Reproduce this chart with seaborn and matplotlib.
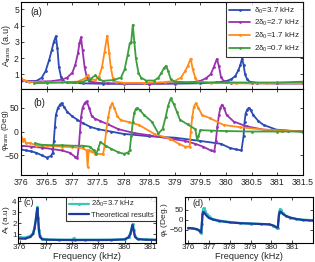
import numpy as np
import pandas as pd
import seaborn as sns
import matplotlib
matplotlib.use("Agg")
import matplotlib.pyplot as plt

# ---- data (frequency in kHz) ----
# (a) transmitted amplitude
f_blue_a = [376.0, 376.1, 376.2, 376.3, 376.4, 376.48, 376.55, 376.6, 376.64, 376.68, 376.71, 376.74, 376.78,
            376.82, 376.9, 377.2, 377.6, 378.0, 378.5, 379.0, 379.5, 379.8, 380.0, 380.1, 380.18, 380.24, 380.28,
            380.31, 380.34, 380.37, 380.41, 380.46, 380.6, 381.0, 381.5]
a_blue = [0.63, 0.6, 0.58, 0.6, 0.78, 1.2, 1.9, 2.5, 3.0, 3.35, 2.6, 1.45, 0.85, 0.6, 0.5, 0.45, 0.42, 0.42, 0.42,
          0.43, 0.45, 0.5, 0.58, 0.7, 0.9, 1.25, 1.6, 1.97, 1.6, 1.0, 0.7, 0.55, 0.48, 0.45, 0.45]

f_purple_a = [376.0, 376.3, 376.6, 376.8, 376.9, 377.0, 377.06, 377.11, 377.14, 377.17, 377.2, 377.24, 377.28,
              377.33, 377.4, 377.7, 378.0, 378.5, 379.0, 379.3, 379.5, 379.6, 379.7, 379.76, 379.82, 379.86, 379.9,
              379.95, 380.1, 380.5, 381.0, 381.5]
a_purple = [0.6, 0.56, 0.58, 0.68, 0.8, 1.1, 1.6, 2.3, 2.9, 3.28, 2.5, 1.45, 0.85, 0.6, 0.5, 0.45, 0.44, 0.43, 0.45,
            0.5, 0.6, 0.75, 1.0, 1.45, 1.95, 1.5, 0.85, 0.6, 0.48, 0.45, 0.44, 0.44]

f_orange_a = [376.0, 376.05, 376.15, 376.4, 376.8, 377.1, 377.25, 377.3, 377.36, 377.45, 377.52, 377.58, 377.63,
              377.68, 377.72, 377.75, 377.79, 377.85, 378.0, 378.4, 378.8, 379.0, 379.12, 379.2, 379.25, 379.31,
              379.35, 379.4, 379.45, 379.7, 380.2, 380.8, 381.5]
a_orange = [0.78, 0.65, 0.55, 0.5, 0.52, 0.55, 0.75, 0.95, 0.7, 0.65, 0.85, 1.45, 2.4, 3.38, 2.3, 1.45, 0.8, 0.55,
            0.48, 0.47, 0.52, 0.6, 0.8, 1.2, 1.5, 1.97, 1.3, 0.8, 0.55, 0.48, 0.45, 0.45, 0.45]

f_green_a = [376.25, 376.5, 376.9, 377.2, 377.35, 377.45, 377.52, 377.6, 377.8, 377.95, 378.02, 378.08, 378.12,
             378.15, 378.18, 378.21, 378.24, 378.29, 378.34, 378.44, 378.6, 378.68, 378.74, 378.79, 378.83, 378.87,
             378.92, 379.0, 379.4, 380.0, 380.5, 381.0, 381.5]
a_green = [0.45, 0.48, 0.5, 0.55, 0.7, 0.94, 0.7, 0.6, 0.65, 0.8, 1.3, 2.2, 2.9, 3.0, 4.05, 3.0, 2.0, 1.1, 0.8, 0.62,
           0.62, 0.8, 1.1, 1.4, 1.52, 1.2, 0.7, 0.55, 0.5, 0.5, 0.5, 0.5, 0.55]

# (b) transmitted phase
f_blue_b = [376.0, 376.1, 376.2, 376.3, 376.4, 376.5, 376.58, 376.62, 376.64, 376.66, 376.68, 376.72, 376.76,
            376.79, 376.84, 376.9, 377.0, 377.1, 377.2, 377.35, 377.5, 377.75, 378.0, 378.5, 379.0, 379.5, 379.9,
            380.08, 380.2, 380.3, 380.34, 380.36, 380.38, 380.41, 380.44, 380.48, 380.53, 380.63, 380.73, 380.98,
            381.2, 381.5]
p_blue = [-38, -40, -42, -45, -50, -55, -52, -45, -20, 10, 35, 50, 57, 60, 52, 42, 32, 25, 18, 10, 5, 0, -5, -10,
          -13, -20, -26, -35, -38, -40, -10, 20, 38, 46, 50, 45, 35, 22, 14, 4, 2, 0]

f_purple_b = [376.0, 376.2, 376.4, 376.6, 376.8, 376.95, 377.05, 377.1, 377.13, 377.15, 377.17, 377.2, 377.24,
              377.28, 377.33, 377.38, 377.45, 377.55, 377.7, 377.9, 378.2, 378.5, 378.9, 379.2, 379.4, 379.55,
              379.7, 379.77, 379.8, 379.83, 379.86, 379.89, 379.92, 379.96, 380.01, 380.15, 380.4, 380.73, 381.1,
              381.5]
p_purple = [-30, -32, -34, -37, -40, -45, -53, -55, -30, 0, 30, 50, 60, 64, 50, 32, 27, 22, 15, 5, -3, -8, -15, -20,
            -26, -32, -40, -42, -20, 10, 35, 50, 57, 50, 35, 21, 11, 4, 2, 0]

f_orange_b = [376.0, 376.03, 376.06, 376.1, 376.18, 376.3, 376.5, 376.8, 377.0, 377.2, 377.28, 377.3, 377.32,
              377.36, 377.45, 377.6, 377.63, 377.66, 377.7, 377.74, 377.78, 377.82, 377.88, 377.95, 378.1, 378.3,
              378.6, 378.9, 379.08, 379.2, 379.29, 379.31, 379.34, 379.37, 379.41, 379.46, 379.53, 379.69, 379.95,
              380.28, 380.73, 381.1, 381.5]
p_orange = [-11, -20, -15, -25, -24, -30, -30, -32, -33, -35, -40, -75, -40, -42, -47, -48, -30, 0, 30, 52, 60, 50,
            32, 24, 20, 14, -5, -15, -26, -32, -32, 0, 30, 52, 60, 50, 35, 28, 14, 9, 4, 2, 0]

f_green_b = [376.27, 376.4, 376.6, 376.8, 377.0, 377.2, 377.34, 377.42, 377.47, 377.5, 377.55, 377.65, 377.75,
             377.9, 378.0, 378.08, 378.12, 378.15, 378.18, 378.21, 378.24, 378.27, 378.32, 378.4, 378.55, 378.68,
             378.76, 378.82, 378.87, 378.92, 378.98, 379.04, 379.1, 379.25, 379.4, 379.43, 379.46, 379.5, 379.7,
             380.0, 380.5, 381.0, 381.5]
p_green = [-25, -28, -29, -29, -30, -30, -32, -40, -47, -38, -22, -30, -36, -44, -47, -45, -40, -10, 20, 40, 48, 50,
           45, 35, 21, -4, 5, 30, 55, 70, 58, 42, 25, 15, 5, -15, -10, 3, 2, 1, 0, 0, 0]

# (c) amplitude, measurement vs theory
f_c = [376.0, 376.2, 376.4, 376.5, 376.56, 376.61, 376.64, 376.67, 376.7, 376.73, 376.77, 376.85, 377.0, 377.5,
       378.0, 378.05, 378.1, 378.5, 379.0, 379.5, 380.0, 380.15, 380.22, 380.27, 380.31, 380.35, 380.4, 380.5,
       380.8, 381.2, 381.5]
a_meas = [0.72, 0.7, 0.85, 1.1, 1.6, 2.4, 3.0, 3.5, 2.5, 1.4, 0.8, 0.6, 0.52, 0.5, 0.5, 0.62, 0.5, 0.5, 0.5, 0.5,
          0.55, 0.75, 1.1, 1.6, 1.95, 1.4, 0.8, 0.58, 0.52, 0.5, 0.5]
a_theory = [0.6, 0.6, 0.75, 1.0, 1.5, 2.3, 2.9, 3.4, 2.4, 1.3, 0.75, 0.55, 0.5, 0.48, 0.47, 0.47, 0.47, 0.47, 0.47,
            0.48, 0.52, 0.7, 1.0, 1.5, 1.85, 1.3, 0.75, 0.55, 0.5, 0.48, 0.48]

# (d) phase, measurement vs theory
f_d = [376.0, 376.2, 376.4, 376.5, 376.58, 376.63, 376.66, 376.69, 376.72, 376.76, 376.82, 376.9, 377.0, 377.2,
       377.5, 378.0, 378.5, 379.0, 379.5, 379.9, 380.1, 380.22, 380.28, 380.31, 380.34, 380.37, 380.41, 380.46,
       380.55, 380.7, 380.9, 381.2, 381.5, 381.8, 382.0]
p_meas = [-40, -42, -46, -52, -60, -65, -20, 30, 55, 60, 45, 30, 18, 5, -3, -10, -15, -18, -20, -22, -28, -35, -40,
          -40, 0, 35, 55, 50, 35, 22, 12, 5, 2, 0, -2]
p_theory = [-40, -42, -45, -50, -58, -62, -20, 25, 40, 38, 30, 20, 10, 2, -5, -12, -16, -18, -20, -22, -28, -35,
            -38, -38, 0, 30, 42, 40, 30, 20, 12, 5, 0, -2, -3]

series_labels = ["δ$_0$=3.7 kHz", "2δ$_0$=2.7 kHz", "2δ$_0$=1.7 kHz", "2δ$_0$=0.7 kHz"]
series_colors = ["#2c4bb3", "#9b30b0", "#ff8c1a", "#3c9e3c"]
top_ticks = [376, 376.5, 377, 377.5, 378, 378.5, 379, 379.5, 380, 380.5, 381, 381.5]
top_ticklabels = ["376", "376.5", "377", "377.5", "378", "378.5", "379", "379.5", "380", "380.5", "381", "381.5"]
bottom_ticks = [376, 377, 378, 379, 380, 381]

sns.set_style("ticks")
plt.rcParams["font.family"] = ["Liberation Sans", "DejaVu Sans"]
plt.rcParams["mathtext.fontset"] = "custom"
plt.rcParams["mathtext.rm"] = "Liberation Sans"
plt.rcParams["mathtext.it"] = "Liberation Sans:italic"
plt.rcParams.update({
    "xtick.direction": "in", "ytick.direction": "in",
    "xtick.top": True, "ytick.right": True,
    "xtick.major.size": 2.5, "ytick.major.size": 2.5,
    "xtick.major.width": 0.6, "ytick.major.width": 0.6,
    "xtick.labelsize": 6.3, "ytick.labelsize": 6.2,
    "xtick.major.pad": 2.5, "ytick.major.pad": 1.5,
    "axes.linewidth": 0.8, "axes.edgecolor": "black",
    "axes.labelsize": 7, "axes.labelpad": 1,
})

W, H = 315, 262
fig = plt.figure(figsize=(W / 100, H / 100), dpi=100)
ax_a = fig.add_axes([21 / W, 1 - 89 / H, 282 / W, 87 / H])
ax_b = fig.add_axes([21 / W, 1 - 175 / H, 282 / W, 86 / H])
ax_c = fig.add_axes([18 / W, 1 - 243 / H, 138 / W, 46 / H])
ax_d = fig.add_axes([185 / W, 1 - 243 / H, 128 / W, 46 / H])

amp = [(f_blue_a, a_blue), (f_purple_a, a_purple), (f_orange_a, a_orange), (f_green_a, a_green)]
phase = [(f_blue_b, p_blue), (f_purple_b, p_purple), (f_orange_b, p_orange), (f_green_b, p_green)]

for (fx, fy), lab, col in zip(amp, series_labels, series_colors):
    sns.lineplot(x=fx, y=fy, ax=ax_a, color=col, label=lab, estimator=None, sort=False,
                 linewidth=1.3, marker="o", markersize=2, markeredgewidth=0)
for (fx, fy), col in zip(phase, series_colors):
    sns.lineplot(x=fx, y=fy, ax=ax_b, color=col, estimator=None, sort=False,
                 linewidth=1.3, marker="o", markersize=2, markeredgewidth=0)

sns.lineplot(x=f_c, y=a_meas, ax=ax_c, color="#3ec4c0", label="2δ$_0$=3.7 kHz", estimator=None, sort=False,
             linewidth=1.6, marker="o", markersize=2.2, markeredgewidth=0)
sns.lineplot(x=f_c, y=a_theory, ax=ax_c, color="#1c3c9c", label="Theoretical results", estimator=None,
             sort=False, linewidth=1.6)
sns.lineplot(x=f_d, y=p_meas, ax=ax_d, color="#3ec4c0", estimator=None, sort=False,
             linewidth=1.6, marker="o", markersize=2.2, markeredgewidth=0)
sns.lineplot(x=f_d, y=p_theory, ax=ax_d, color="#1c3c9c", estimator=None, sort=False, linewidth=1.6)

# panel (a)
ax_a.set_xlim(376, 381.5)
ax_a.set_ylim(0.1, 5.45)
ax_a.set_yticks([1, 2, 3, 4, 5])
ax_a.set_xticks(top_ticks)
ax_a.set_xticklabels([])
ax_a.set_ylabel("A$_{\\rm trans}$ (a.u)", fontsize=6.5)
ax_a.yaxis.set_label_coords(-8 / 282, 0.5)
ax_a.text(0.035, 0.85, "(a)", transform=ax_a.transAxes, fontsize=7)
leg = ax_a.legend(loc="upper right", fontsize=5.8, frameon=True, fancybox=False, edgecolor="black",
                  borderaxespad=0, handlelength=2.6, handletextpad=0.4, labelspacing=0.3, borderpad=0.45)
leg.get_frame().set_linewidth(0.8)

# panel (b)
ax_b.set_xlim(376, 381.5)
ax_b.set_ylim(-92, 90)
ax_b.set_yticks([-50, 0, 50])
ax_b.set_xticks(top_ticks)
ax_b.set_xticklabels(top_ticklabels)
ax_b.set_ylabel("φ$_{\\rm trans}$ (Deg)", fontsize=5.8)
ax_b.yaxis.set_label_coords(-10 / 282, 0.52)
ax_b.text(0.045, 0.8, "(b)", transform=ax_b.transAxes, fontsize=7)

# panel (c)
ax_c.set_xlim(375.93, 381.2)
ax_c.set_ylim(0.2, 4.4)
ax_c.set_yticks([1, 2, 3, 4])
ax_c.set_xticks(bottom_ticks)
ax_c.tick_params(labelsize=5.8, pad=1)
ax_c.set_xlabel("Frequency (kHz)", fontsize=6.6)
ax_c.xaxis.set_label_coords(0.5, -9 / 46)
ax_c.set_ylabel("A$_{\\rm t}$ (a.u)", fontsize=6)
ax_c.yaxis.set_label_coords(-6 / 138, 0.5)
ax_c.text(0.04, 0.82, "(c)", transform=ax_c.transAxes, fontsize=6.5)
leg_c = ax_c.legend(loc="upper right", fontsize=5.5, frameon=True, fancybox=False, edgecolor="black",
                    borderaxespad=0, handlelength=2.6, handletextpad=0.3, labelspacing=0.3, borderpad=0.3)
leg_c.get_frame().set_linewidth(0.8)

# panel (d)
ax_d.set_xlim(375.85, 382)
ax_d.set_ylim(-115, 115)
ax_d.set_yticks([-50, 0, 50])
ax_d.set_xticks(bottom_ticks)
ax_d.tick_params(labelsize=5.8, pad=1)
ax_d.set_xlabel("Frequency (kHz)", fontsize=6.6)
ax_d.xaxis.set_label_coords(0.5, -9 / 46)
ax_d.set_ylabel("φ$_{\\rm t}$ (Deg.)", fontsize=6)
ax_d.yaxis.set_label_coords(-15 / 128, 0.5)
ax_d.text(0.06, 0.8, "(d)", transform=ax_d.transAxes, fontsize=6.5)

for ax in (ax_a, ax_b, ax_c, ax_d):
    for sp in ax.spines.values():
        sp.set_visible(True)

fig.savefig("out.png", dpi=100)
